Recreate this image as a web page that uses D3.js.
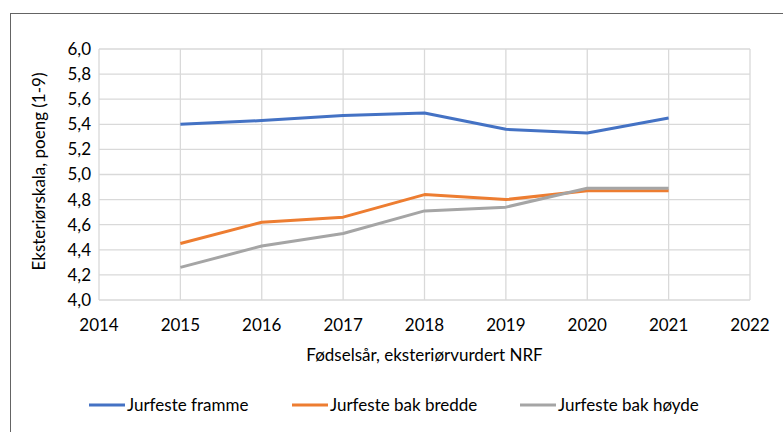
<!DOCTYPE html>
<html>
<head>
<meta charset="utf-8">
<script src="https://cdn.jsdelivr.net/npm/d3@7"></script>
<style>
  body { margin: 0; background: #fff; }
  svg { display: block; font-family: Lato, "DejaVu Sans Condensed", sans-serif; }
</style>
</head>
<body>
<svg width="783" height="432"></svg>
<script>
const years = [2015, 2016, 2017, 2018, 2019, 2020, 2021];
const framme = [5.40, 5.43, 5.47, 5.49, 5.36, 5.33, 5.45];
const bakBredde = [4.45, 4.62, 4.66, 4.84, 4.80, 4.87, 4.87];
const bakHoyde = [4.26, 4.43, 4.53, 4.71, 4.74, 4.89, 4.89];
const xTicks = d3.range(2014, 2023);
const yTicks = d3.range(4.0, 6.01, 0.2);

const series = [
  { name: "Jurfeste framme", values: framme, color: "#4472c4" },
  { name: "Jurfeste bak bredde", values: bakBredde, color: "#ed7d31" },
  { name: "Jurfeste bak høyde", values: bakHoyde, color: "#a5a5a5" }
];

const svg = d3.select("svg");
const margin = { top: 49, left: 99, bottom: 132, right: 33 };
const width = +svg.attr("width");
const height = +svg.attr("height");
const fs = 17;

// outer chart frame (runs off the right and bottom edges)
svg.append("rect")
  .attr("x", 10.5).attr("y", 13.5)
  .attr("width", 800).attr("height", 450)
  .attr("fill", "none").attr("stroke", "#646464");

const x = d3.scaleLinear().domain([2014, 2022]).range([margin.left, width - margin.right]);
const y = d3.scaleLinear().domain([4, 6]).range([height - margin.bottom, margin.top]);

const fmt = (d) => d3.format(".1f")(d).replace(".", ",");

// grid
const grid = svg.append("g").attr("stroke", "#d9d9d9").attr("stroke-width", 1.3);
grid.selectAll(".h").data(yTicks).join("line")
  .attr("x1", x(2014)).attr("x2", x(2022))
  .attr("y1", (d) => y(d)).attr("y2", (d) => y(d));
grid.selectAll(".v").data(xTicks).join("line")
  .attr("x1", (d) => x(d)).attr("x2", (d) => x(d))
  .attr("y1", y(4)).attr("y2", y(6));

// y tick labels
svg.append("g").selectAll("text").data(yTicks).join("text")
  .attr("x", x(2014) - 8).attr("y", (d) => y(d))
  .attr("dy", "0.35em").attr("text-anchor", "end")
  .attr("font-size", fs).attr("fill", "#000")
  .text(fmt);

// x tick labels
svg.append("g").selectAll("text").data(xTicks).join("text")
  .attr("x", (d) => x(d)).attr("y", y(4) + 25)
  .attr("dy", "0.35em").attr("text-anchor", "middle")
  .attr("font-size", fs).attr("fill", "#000")
  .text((d) => d);

// axis titles
svg.append("text")
  .attr("x", (x(2014) + x(2022)) / 2).attr("y", 355)
  .attr("dy", "0.35em").attr("text-anchor", "middle")
  .attr("font-size", fs).text("Fødselsår, eksteriørvurdert NRF");

svg.append("text")
  .attr("transform", `translate(39,171.5) rotate(-90)`)
  .attr("dy", "0.35em").attr("text-anchor", "middle")
  .attr("font-size", fs).text("Eksteriørskala, poeng (1-9)");

// lines
const line = d3.line().x((d, i) => x(years[i])).y((d) => y(d));
svg.append("g").selectAll("path").data(series).join("path")
  .attr("fill", "none")
  .attr("stroke", (d) => d.color)
  .attr("stroke-width", 3)
  .attr("stroke-linejoin", "round")
  .attr("d", (d) => line(d.values));

// legend
const legendX = [89, 292, 520];
const legend = svg.append("g").selectAll("g").data(series).join("g")
  .attr("transform", (d, i) => `translate(${legendX[i]},405)`);
legend.append("line")
  .attr("x1", 0).attr("x2", 36)
  .attr("stroke", (d) => d.color).attr("stroke-width", 3);
legend.append("text")
  .attr("x", 38).attr("dy", "0.35em")
  .attr("font-size", fs).text((d) => d.name);
</script>
</body>
</html>
